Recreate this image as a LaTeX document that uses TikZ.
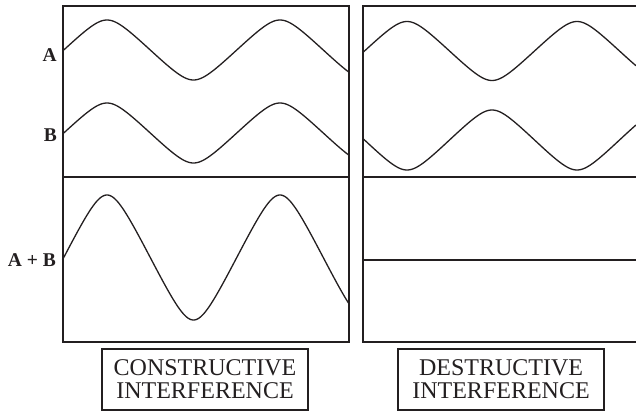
\documentclass[tikz,border=0pt]{standalone}
\usepackage{fontspec}
\setmainfont{Liberation Serif}
\definecolor{ink}{RGB}{35,31,32}
\begin{document}
\begin{tikzpicture}[x=1pt,y=-1pt,
  panel/.style={draw=ink,line width=2pt},
  wave/.style={draw=ink,line width=1.3pt,line join=round},
  lbl/.style={text=ink,font=\fontsize{19.5}{19.5}\selectfont\bfseries,anchor=base east,inner sep=0pt},
  capbox/.style={draw=ink,text=ink,line width=1.6pt,minimum width=206pt,minimum height=61pt,inner sep=0pt,align=center,font=\fontsize{24}{23}\selectfont}]
\useasboundingbox (0,0) rectangle (636,411);
\clip (0,0) rectangle (636,411);
% left panel
\draw[panel] (62.5,6) rectangle (348.5,342);
\draw[panel] (62.5,177) -- (348.5,177);
% right panel
\draw[panel] (363,6) rectangle (652,342);
\draw[panel] (363,177) -- (652,177);
\draw[wave] (363,260) -- (652,260);
% waves, left (period 173 px -> 2.0809 deg/px); k=0.85, asin(k)=58.212
\draw[wave] plot[domain=62.5:348.5,samples=300] (\x,{50-30*asin(0.85*sin((\x-63.75)*2.0809))/58.212});
\draw[wave] plot[domain=62.5:348.5,samples=300] (\x,{133-30*asin(0.85*sin((\x-63.75)*2.0809))/58.212});
\draw[wave] plot[domain=62.5:348.5,samples=300] (\x,{257.5-62.5*asin(0.85*sin((\x-63.75)*2.0809))/58.212});
% waves, right (period 170 px -> 2.1176 deg/px)
\draw[wave] plot[domain=363:636,samples=300] (\x,{51-29.5*asin(0.85*sin((\x-364.5)*2.1176))/58.212});
\draw[wave] plot[domain=363:636,samples=300] (\x,{140+30*asin(0.85*sin((\x-364.5)*2.1176))/58.212});
% labels
\node[lbl] (la) at (57,62) {A};
\node[lbl] (lb) at (57,142) {B};
\node[lbl] (lab) at (56,266) {A + B};
\node[capbox] (cons) at (205,379.5) {CONSTRUCTIVE\\INTERFERENCE};
\node[capbox] (des) at (501,379.5) {DESTRUCTIVE\\INTERFERENCE};
\end{tikzpicture}
\end{document}
